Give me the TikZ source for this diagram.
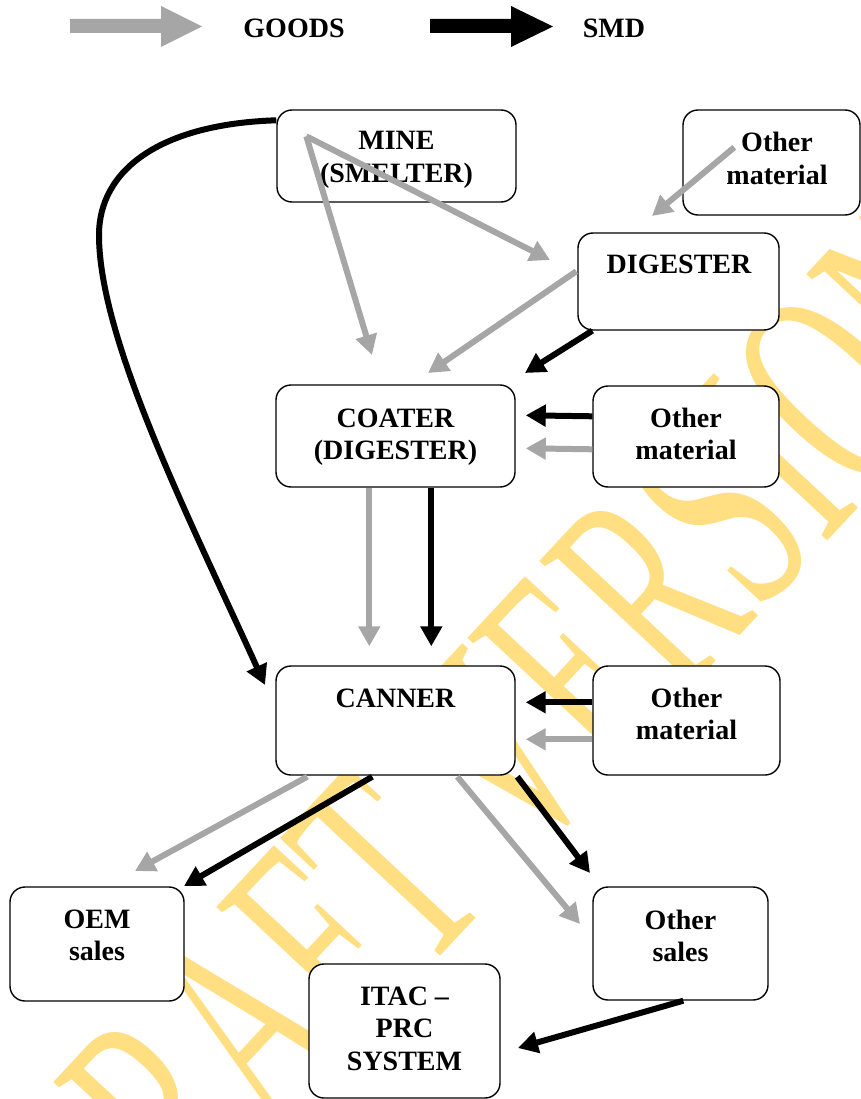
\documentclass[tikz,border=0pt]{standalone}
\usepackage{fontspec}
\setmainfont{Liberation Serif}
\usepackage{graphicx}
\usetikzlibrary{arrows.meta,calc}
\definecolor{goods}{RGB}{166,166,166}
\definecolor{wmark}{RGB}{255,223,130}
\newcommand\stacklines[1]{\begin{tabular}[t]{@{}c@{}}#1\end{tabular}}
\begin{document}
\begin{tikzpicture}[x=1pt,y=-1pt,
  box/.style={draw=black, line width=1.4pt, rounded corners=15pt, fill=white, inner sep=0pt},
  lbl/.style={font=\fontsize{28}{32.5}\selectfont\bfseries, anchor=base, inner sep=0pt},
  good/.style={draw=goods, line width=6pt, -{Triangle[length=20pt,width=21pt]}},
  smd/.style={draw=black, line width=6pt, -{Triangle[length=20pt,width=21pt]}},
]
\useasboundingbox (0,0) rectangle (861,1099);
\fill[white] (0,0) rectangle (861,1099);

% watermark
\node[text=wmark, rotate=47, inner sep=0pt, font=\fontsize{172}{172}\selectfont] (wm) at (500,750) {\scalebox{1}[1.75]{DRAFT VERSION}};

% legend
\fill[goods] (70,19) -- (161,19) -- (161,6) -- (202,26.5) -- (161,47) -- (161,33) -- (70,33) -- cycle;
\fill[black] (430,19) -- (511,19) -- (511,6) -- (553,26.5) -- (511,47) -- (511,33) -- (430,33) -- cycle;
\node[lbl] (lgoods) at (294,38) {GOODS};
\node[lbl] (lsmd) at (614,38) {SMD};

% boxes
\node[box, minimum width=239pt, minimum height=92pt] (mine) at (396.5,156) {};
\node[box, minimum width=177pt, minimum height=105pt] (othTop) at (771.5,162.5) {};
\node[box, minimum width=201pt, minimum height=97pt] (dig) at (678.5,281.5) {};
\node[box, minimum width=239pt, minimum height=102pt] (coat) at (395.5,436) {};
\node[box, minimum width=186pt, minimum height=101pt] (othMid) at (686,436.5) {};
\node[box, minimum width=239pt, minimum height=109pt] (can) at (395.5,720.5) {};
\node[box, minimum width=187pt, minimum height=109pt] (othBot) at (686.5,720.5) {};
\node[box, minimum width=174pt, minimum height=114pt] (oem) at (97,944) {};
\node[box, minimum width=175pt, minimum height=113pt] (othSales) at (680.5,943.5) {};
\node[box, minimum width=191pt, minimum height=134pt] (itac) at (404.5,1031) {};

% texts
\node[lbl] (mineT) at (396.5,150) {\stacklines{MINE\\(SMELTER)}};
\node[lbl] (othTopT) at (777,152) {\stacklines{Other\\material}};
\node[lbl] (digT) at (679,273) {DIGESTER};
\node[lbl] (coatT) at (395.5,427) {\stacklines{COATER\\(DIGESTER)}};
\node[lbl] (othMidT) at (686,427) {\stacklines{Other\\material}};
\node[lbl] (canT) at (395.5,707) {CANNER};
\node[lbl] (othBotT) at (686.5,707) {\stacklines{Other\\material}};
\node[lbl] (oemT) at (97,928) {\stacklines{OEM\\sales}};
\node[lbl] (othSalesT) at (680.5,929) {\stacklines{Other\\sales}};
\node[lbl] (itacT) at (404.5,1005) {\stacklines{ITAC --\\PRC\\SYSTEM}};

% free ends
\coordinate (tCanL) at (265,685);
\coordinate (tCoatG) at (372,355);
\coordinate (tDigG) at (550,260);
\coordinate (tDigG2) at (652,216);
\coordinate (tCoatG2) at (428,373);
\coordinate (tCoatB) at (525,373);
\coordinate (tOemG) at (135,871);
\coordinate (tOemB) at (184,886);
\coordinate (tSalG) at (580,924);
\coordinate (tSalB) at (590,873);
\coordinate (tItac) at (518,1048);

% connectors
\draw[smd] ($(mine.north west)+(0,11)$) .. controls (160,124) and (99,170) .. (99,235)
   .. controls (99,340) and (190,520) .. (tCanL);
\draw[good] ($(mine.north west)+(30,27)$) -- (tCoatG);
\draw[good] ($(mine.north west)+(30,27)$) -- (tDigG);
\draw[good] ($(othTop.north west)+(52,38)$) -- (tDigG2);
\draw[good] ($(dig.north west)+(-1,39)$) -- (tCoatG2);
\draw[smd] ($(dig.south west)+(15,0)$) -- (tCoatB);
\draw[smd] ($(othMid.north west)+(0,31)$) -- ($(coat.north east)+(10,31)$);
\draw[good] ($(othMid.north west)+(0,64)$) -- ($(coat.north east)+(10,64)$);
\draw[good] ($(coat.south west)+(94,0)$) -- ($(can.north west)+(94,-19)$);
\draw[smd] ($(coat.south west)+(156,0)$) -- ($(can.north west)+(156,-19)$);
\draw[smd] ($(othBot.north west)+(0,37)$) -- ($(can.north east)+(10,37)$);
\draw[good] ($(othBot.north west)+(0,74)$) -- ($(can.north east)+(10,74)$);
\draw[good] ($(can.south west)+(32,1)$) -- (tOemG);
\draw[smd] ($(can.south west)+(97,1)$) -- (tOemB);
\draw[good] ($(can.south west)+(182,1)$) -- (tSalG);
\draw[smd] ($(can.south west)+(242,1)$) -- (tSalB);
\draw[smd] ($(othSales.south west)+(91,0)$) -- (tItac);
\end{tikzpicture}
\end{document}
